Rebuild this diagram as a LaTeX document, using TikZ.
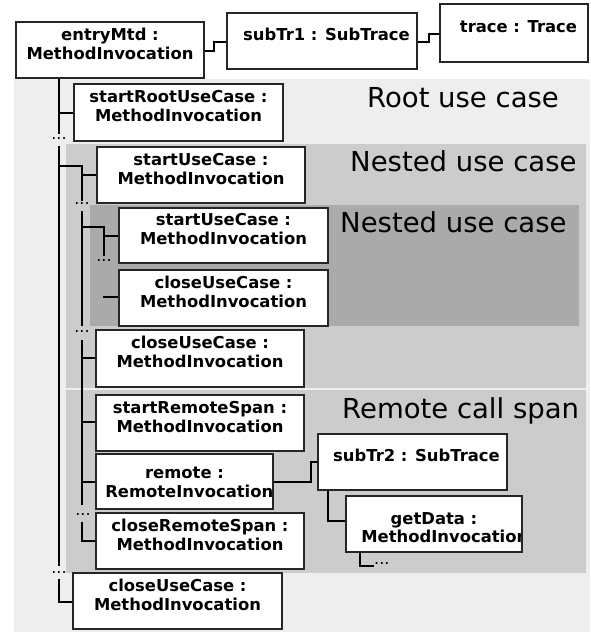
\documentclass[tikz,border=0pt]{standalone}
\usepackage{fontspec}
\setmainfont{DejaVu Sans}
\usetikzlibrary{fit}
\definecolor{bgA}{HTML}{EEEEEE}
\definecolor{bgB}{HTML}{CCCCCC}
\definecolor{bgC}{HTML}{AAAAAA}
\newcommand\boxfnt{\fontsize{16.4}{19}\selectfont\bfseries}
\newcommand\lblfnt{\fontsize{27.5}{30}\selectfont}
\newcommand\dotfnt{\fontsize{16}{18}\selectfont}
\begin{document}
\begin{tikzpicture}[x=1pt,y=-1pt,
  box/.style={draw=black!85, line width=1.6pt, fill=white, inner sep=0pt, align=center, font=\boxfnt},
  btext/.style={font=\boxfnt, inner sep=0pt},
  conn/.style={line width=1.4pt, draw=black},
  lbl/.style={font=\lblfnt, anchor=base west, inner sep=0pt},
  dotsn/.style={font=\dotfnt, inner sep=0pt}
]
\useasboundingbox (0,0) rectangle (590,632);
% regions
\fill[bgA] (14,79) rectangle (590,632);
\fill[bgB] (66,144) rectangle (586,388);
\fill[bgB] (66,390) rectangle (586,573);
\fill[bgC] (90,205) rectangle (579,326);
\node[lbl] (lroot) at (367,107) {Root use case};
\node[lbl] (lnest1) at (350,171) {Nested use case};
\node[lbl] (lnest2) at (340,232) {Nested use case};
\node[lbl] (lremote) at (342,418) {Remote call span};

% boxes
\node[box, fit={(16,22) (204,78)}] (entry) {entryMtd :\\MethodInvocation};
\node[box, fit={(227,13) (417,69)}] (sub1) {\hspace*{9pt}subTr1 : SubTrace};
\node[box, fit={(440,4) (588,62)}] (trace) {\hspace*{9pt}trace : Trace};
\node[box, fit={(74,84) (283,141)}] (sr) {startRootUseCase :\\MethodInvocation};
\node[box, fit={(97,147) (305,203)}] (su1) {startUseCase :\\MethodInvocation};
\node[box, fit={(119,208) (328,263)}] (su2) {startUseCase :\\MethodInvocation};
\node[box, fit={(119,270) (328,326)}] (ci) {closeUseCase :\\MethodInvocation};
\node[box, fit={(96,330) (304,387)}] (co) {closeUseCase :\\MethodInvocation};
\node[box, fit={(96,395) (304,451)}] (srs) {startRemoteSpan :\\MethodInvocation};
\node[box, fit={(96,454) (273,509)}, path picture={
  \node[btext, anchor=base] at ([yshift=3.5pt]path picture bounding box.center) {remote :};
  \node[btext, anchor=base west] at ([xshift=4pt,yshift=-15.5pt]path picture bounding box.west) {RemoteInvocation};
}] (rem) {};
\node[box, fit={(96,513) (304,569)}] (crs) {closeRemoteSpan :\\MethodInvocation};
\node[box, fit={(73,573) (282,629)}] (cu3) {closeUseCase :\\MethodInvocation};
\node[box, fit={(318,434) (507,490)}] (st2) {\hspace*{8pt}subTr2 : SubTrace};
\node[box, fit={(346,496) (522,552)}, path picture={
  \node[btext, anchor=base] at ([yshift=0pt]path picture bounding box.center) {getData :};
  \node[btext, anchor=base west] at ([xshift=10pt,yshift=-18.3pt]path picture bounding box.west) {MethodInvocation};
}] (gd) {};

% dots
\node[dotsn] (d0) at (59,139) {...};
\node[dotsn] (d1) at (82,204) {...};
\node[dotsn] (d2) at (82,332) {...};
\node[dotsn] (d3) at (83,515) {...};
\node[dotsn] (d4) at (59,573) {...};
\node[dotsn] (d5) at (104,261) {...};
\node[dotsn, anchor=west] (d6) at (374,564) {...};

% top connectors
\coordinate (e1a) at (214,51); \coordinate (e1b) at (214,42);
\draw[conn] (entry.east |- e1a) -- (e1a) -- (e1b) -- (sub1.west |- e1b);
\coordinate (e2a) at (429,42); \coordinate (e2b) at (429,34);
\draw[conn] (sub1.east |- e2a) -- (e2a) -- (e2b) -- (trace.west |- e2b);

% main vertical
\coordinate (v0a) at (59,134); \coordinate (v0b) at (59,146);
\coordinate (v0c) at (59,566); \coordinate (v0d) at (59,579); \coordinate (v0e) at (59,602);
\draw[conn] (entry.south -| v0a) -- (v0a);
\draw[conn] (v0b) -- (v0c);
\draw[conn] (v0d) -- (v0e) -- (cu3.west |- v0e);
\coordinate (b1) at (59,113);
\draw[conn] (b1) -- (sr.west |- b1);
\coordinate (b2) at (59,166); \coordinate (b2x) at (82,166); \coordinate (b2y) at (82,175);
\draw[conn] (b2) -- (b2x) -- (b2y) -- (su1.west |- b2y);

% second level vertical
\coordinate (v1a) at (82,201); \coordinate (v1b) at (82,211); \coordinate (v1c) at (82,326);
\coordinate (v1d) at (82,340); \coordinate (v1e) at (82,505); \coordinate (v1f) at (82,522);
\coordinate (v1g) at (82,541);
\draw[conn] (b2y) -- (v1a);
\draw[conn] (v1b) -- (v1c);
\draw[conn] (v1d) -- (v1e);
\draw[conn] (v1f) -- (v1g) -- (crs.west |- v1g);
\coordinate (b3) at (82,227); \coordinate (b3x) at (104,227); \coordinate (b3y) at (104,236);
\coordinate (v2a) at (104,256);
\draw[conn] (b3) -- (b3x) -- (v2a);
\draw[conn] (b3y) -- (su2.west |- b3y);
\coordinate (b4) at (103,297);
\draw[conn] (b4) -- (ci.west |- b4);
\coordinate (b5) at (82,358);
\draw[conn] (b5) -- (co.west |- b5);
\coordinate (b6) at (82,422);
\draw[conn] (b6) -- (srs.west |- b6);
\coordinate (b7) at (82,482);
\draw[conn] (b7) -- (rem.west |- b7);

% remote side
\coordinate (r1) at (311,482); \coordinate (r2) at (311,462);
\draw[conn] (rem.east |- r1) -- (r1) -- (r2) -- (st2.west |- r2);
\coordinate (g1) at (328,521);
\draw[conn] (st2.south -| g1) -- (g1) -- (gd.west |- g1);
\coordinate (g2) at (360,566);
\draw[conn] (gd.south -| g2) -- (g2) -- (d6.west |- g2);
\end{tikzpicture}
\end{document}
